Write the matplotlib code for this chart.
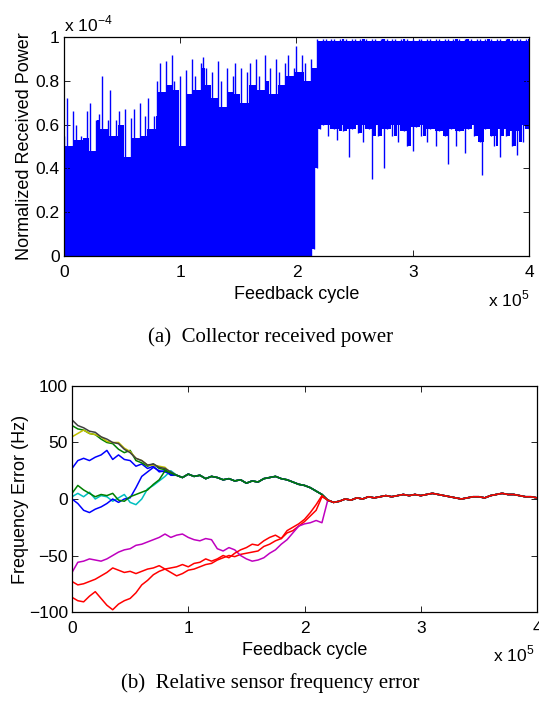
import numpy as np
import matplotlib
matplotlib.use("Agg")
import matplotlib.pyplot as plt

plt.rcParams['font.family'] = ['Liberation Sans', 'DejaVu Sans']
plt.rcParams['mathtext.fontset'] = 'custom'
plt.rcParams['mathtext.rm'] = 'Liberation Sans'
plt.rcParams['xtick.direction'] = 'in'
plt.rcParams['ytick.direction'] = 'in'

# ---- (a) collector received power, values in units of 1e-4, one sample every 2500 cycles
power_step = 0.025  # in units of 1e5 cycles
power_peaks = [
    0.55, 0.72, 0.50, 0.66, 0.60, 0.53, 0.55, 0.54, 0.66, 0.70,
    0.48, 0.62, 0.65, 0.82, 0.58, 0.62, 0.76, 0.55, 0.62, 0.66,
    0.60, 0.67, 0.45, 0.63, 0.67, 0.54, 0.70, 0.55, 0.64, 0.72,
    0.58, 0.64, 0.80, 0.88, 0.75, 0.89, 0.78, 0.92, 0.80, 0.76,
    0.82, 0.50, 0.85, 0.74, 0.90, 0.82, 0.76, 0.88, 0.91, 0.86,
    0.78, 0.84, 0.72, 0.89, 0.80, 0.68, 0.86, 0.75, 0.82, 0.88,
    0.74, 0.86, 0.70, 0.84, 0.88, 0.78, 0.90, 0.82, 0.76, 0.92,
    0.80, 0.86, 0.74, 0.90, 0.84, 0.78, 0.88, 0.92, 0.82, 0.86,
    0.96, 0.84, 0.92, 0.88, 0.80, 0.90, 0.86, 0.99, 0.98, 0.99,
    0.99, 0.98, 0.99, 0.99, 0.98, 0.99, 0.99, 0.99, 0.98, 0.99,
    0.99, 0.98, 0.99, 0.99, 0.99, 0.98, 0.99, 0.99, 0.98, 0.99,
    0.99, 0.99, 0.98, 0.99, 0.99, 0.98, 0.99, 0.99, 0.99, 0.98,
    0.99, 0.98, 0.99, 0.99, 0.98, 0.99, 0.99, 0.98, 0.99, 0.99,
    0.98, 0.99, 0.99, 0.98, 0.99, 0.99, 0.99, 0.98, 0.99, 0.99,
    0.99, 0.98, 0.99, 0.99, 0.98, 0.99, 0.99, 0.99, 0.98, 0.99,
    0.99, 0.98, 0.99, 0.99, 0.99, 0.98, 0.99, 0.99, 0.98, 0.99,
    0.99,
]
power_troughs = [0.0] * 86 + [
    0.03, 0.40, 0.58, 0.60, 0.62, 0.55, 0.60, 0.58, 0.53, 0.62, 0.57, 0.60, 0.45, 0.58,
    0.62, 0.56, 0.60, 0.52, 0.61, 0.58, 0.35, 0.60, 0.55, 0.62,
    0.40, 0.58, 0.61, 0.55, 0.60, 0.52, 0.62, 0.57, 0.50, 0.60,
    0.48, 0.59, 0.62, 0.55, 0.60, 0.52, 0.58, 0.62, 0.50, 0.57,
    0.60, 0.55, 0.42, 0.58, 0.62, 0.50, 0.57, 0.60, 0.47, 0.58,
    0.62, 0.55, 0.60, 0.52, 0.37, 0.58, 0.61, 0.55, 0.50, 0.60,
    0.45, 0.58, 0.55, 0.62, 0.50, 0.57, 0.46, 0.60, 0.52, 0.62, 0.58,
]

# ---- (b) frequency error (Hz), one sample every 5000 cycles
freq_step = 0.05
# shared track of the upper group after merging, from 0.9e5 to 2.15e5
upper_group = [21, 19, 22, 20, 21, 18, 20, 19, 17, 18, 16, 17, 14, 16, 15, 18,
               19, 20, 18, 17, 15, 13, 12, 10, 7, 4]
# consensus reached by every sensor, from 2.2e5 to 4e5
consensus = [-1, -3, -2, 0, -1, 1, 0, 2, 1, 2, 3, 2, 3, 4, 3, 4, 3, 4, 5, 4, 3, 2,
             1, 0, 1, 2, 2, 1, 3, 4, 5, 4, 4, 3, 2, 2, 1]

# early parts (0 .. 0.85e5) of sensors that join the upper group
gray_early = [70, 65, 63, 60, 59, 55, 53, 50, 49, 44, 41, 36, 34, 30, 31, 28, 27, 24]
yellow_early = [55, 58, 61, 58, 57, 55, 51, 50, 50, 45, 42, 36, 34, 30, 30, 29, 28, 23]
green1_early = [65, 62, 61, 58, 57, 53, 50, 49, 44, 41, 43, 34, 32, 29, 31, 27, 26, 22]
blue1_early = [27, 34, 36, 34, 37, 39, 43, 35, 39, 35, 34, 29, 31, 27, 29, 24, 25, 21]
blue2_early = [0, -4, -10, -12, -9, -7, -4, 0, -3, 0, 1, 10, 20, 24, 28, 25, 24, 22]
green2_early = [5, 12, 8, 5, 2, 4, 3, 5, -1, -2, 2, 4, 6, 8, 13, 17, 25, 23]
cyan_early = [2, 5, 2, 6, 0, 3, 2, -2, 1, 4, -3, -5, 0, 9, 12, 16, 20, 25]

# lower sensors (0 .. 2.15e5)
magenta_early = [-65, -56, -55, -53, -54, -55, -53, -50, -47, -45, -44, -41, -40, -38,
                 -36, -34, -31, -34, -32, -31, -34, -36, -37, -35, -36, -44, -46, -43,
                 -45, -50, -53, -55, -54, -52, -48, -45, -40, -36, -30, -24, -22, -21,
                 -19, -21]
red1_early = [-73, -76, -75, -73, -71, -68, -65, -61, -63, -65, -64, -66, -64, -62,
              -61, -59, -62, -65, -68, -66, -63, -62, -60, -58, -57, -54, -52, -50,
              -51, -49, -48, -47, -46, -42, -40, -37, -35, -30, -28, -24, -20, -15,
              -10, 2]
red2_early = [-87, -90, -91, -86, -82, -88, -94, -98, -93, -90, -88, -83, -76, -72,
              -67, -64, -62, -61, -60, -58, -60, -57, -56, -53, -55, -53, -50, -52,
              -48, -45, -43, -40, -41, -37, -34, -32, -35, -28, -25, -22, -18, -12,
              -5, 3]

mat_colors = {
    'b': (0, 0, 1), 'g': (0, 0.5, 0), 'r': (1, 0, 0), 'c': (0, 0.75, 0.75),
    'm': (0.75, 0, 0.75), 'y': (0.75, 0.75, 0), 'k': (0.25, 0.25, 0.25),
}

fig = plt.figure(figsize=(5.39, 7.05), dpi=100)
ax1 = fig.add_axes([0.1187, 0.6369, 0.8627, 0.3106])
ax2 = fig.add_axes([0.1336, 0.1319, 0.8627, 0.3206])

# top plot: solid body, thin spikes for the extremes
pk = np.array(power_peaks)
tr = np.array(power_troughs)
xp = np.arange(len(pk)) * power_step
pk3 = np.vstack([np.r_[pk[0], pk[:-1]], pk, np.r_[pk[1:], pk[-1]]])
tr3 = np.vstack([np.r_[tr[0], tr[:-1]], tr, np.r_[tr[1:], tr[-1]]])
body_top = pk3.min(axis=0)
body_bot = np.median(tr3, axis=0)
ax1.fill_between(xp, body_bot, body_top, step='mid', color='b', linewidth=0)
ax1.vlines(xp, tr, pk, color='b', linewidth=1.0)
ax1.set_xlim(0, 4)
ax1.set_ylim(0, 1)
ax1.set_xticks([0, 1, 2, 3, 4])
ax1.set_yticks([0, 0.2, 0.4, 0.6, 0.8, 1])
ax1.set_yticklabels(['0', '0.2', '0.4', '0.6', '0.8', '1'])
ax1.set_xlabel('Feedback cycle', fontsize=13, labelpad=4)
ax1.set_ylabel('Normalized Received Power', fontsize=13, labelpad=2)
ax1.text(0.0, 1.01, r'x 10$^{-4}$', transform=ax1.transAxes, fontsize=12.5, ha='left', va='bottom')
ax1.text(1.0, -0.15, r'x 10$^{5}$', transform=ax1.transAxes, fontsize=12.5, ha='right', va='top')

# bottom plot
n_up = len(gray_early)
x_up = np.arange(n_up + len(upper_group) + len(consensus)) * freq_step
n_low = len(red1_early)
x_low = np.arange(n_low + len(consensus)) * freq_step

lines = [
    (blue1_early, 'b', 'up'), (green1_early, 'g', 'up'), (red1_early, 'r', 'low'),
    (cyan_early, 'c', 'up'), (magenta_early, 'm', 'low'), (yellow_early, 'y', 'up'),
    (gray_early, 'k', 'up'), (blue2_early, 'b', 'up'), (green2_early, 'g', 'up'),
    (red2_early, 'r', 'low'),
]
for early, c, kind in lines:
    if kind == 'up':
        y = list(early) + upper_group + consensus
        ax2.plot(x_up, y, color=mat_colors[c], linewidth=1.1)
    else:
        y = list(early) + consensus
        ax2.plot(x_low, y, color=mat_colors[c], linewidth=1.1)

ax2.set_xlim(0, 4)
ax2.set_ylim(-100, 100)
ax2.set_xticks([0, 1, 2, 3, 4])
ax2.set_yticks([-100, -50, 0, 50, 100])
ax2.set_xlabel('Feedback cycle', fontsize=13, labelpad=4)
ax2.set_ylabel('Frequency Error (Hz)', fontsize=13, labelpad=0)
ax2.text(0.995, -0.14, r'x 10$^{5}$', transform=ax2.transAxes, fontsize=12.5, ha='right', va='top')

for ax in (ax1, ax2):
    ax.tick_params(labelsize=12.5, top=True, right=True, length=4, width=0.6, pad=3)
    ax.tick_params(axis='x', pad=6.5)
    for s in ax.spines.values():
        s.set_linewidth(0.9)

fig.text(0.502, 1 - 337 / 705, '(a)  Collector received power', family='Liberation Serif',
         fontsize=15, ha='center', va='center')
fig.text(0.502, 1 - 683 / 705, '(b)  Relative sensor frequency error', family='Liberation Serif',
         fontsize=15, ha='center', va='center')

fig.savefig('out.png', dpi=100)
